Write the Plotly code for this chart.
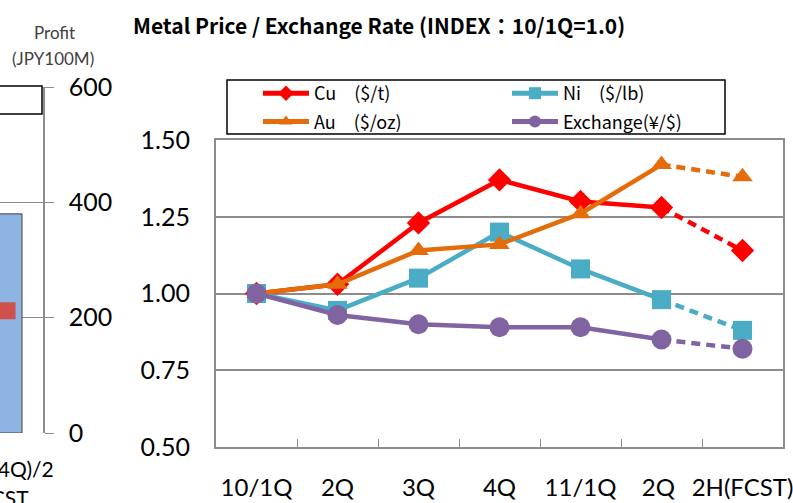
import plotly.graph_objects as go

W, H = 793, 503

categories = ["10/1Q", "2Q", "3Q", "4Q", "11/1Q", "2Q ", "2H(FCST)"]
cu = [1.00, 1.03, 1.23, 1.37, 1.30, 1.28, 1.14]
ni = [1.00, 0.945, 1.05, 1.20, 1.08, 0.98, 0.88]
au = [1.00, 1.03, 1.14, 1.16, 1.26, 1.42, 1.38]
fx = [1.00, 0.93, 0.90, 0.89, 0.89, 0.85, 0.82]
y_ticks = [0.50, 0.75, 1.00, 1.25, 1.50]

# partial neighbouring chart (left)
left_x = [0.0]
profit_bar = [380]
profit_marker_x = [0.16]
profit_marker = [212]
profit_ticks = [0, 200, 400, 600]

series = [
    ("Cu\u3000($/t)", cu, "#FF0000", "diamond", 18, "legend"),
    ("Ni\u3000($/lb)", ni, "#4BACC6", "square", 19, "legend2"),
    ("Au\u3000($/oz)", au, "#E46C0A", "triangle-up", 18, "legend"),
    ("Exchange(\u00a5/$)", fx, "#8064A2", "circle", 20, "legend2"),
]

def px(v):
    return v / W

def py(v):
    return (H - v) / H

fig = go.Figure()

for i, (name, vals, col, sym, sz, lg) in enumerate(series):
    fig.add_trace(go.Scatter(
        x=categories[:6], y=vals[:6], name=name, mode="lines+markers",
        line=dict(color=col, width=4.5),
        marker=dict(symbol=sym, size=sz, color=col, opacity=1),
        legend=lg, legendgroup="g%d" % i,
        xaxis="x", yaxis="y",
    ))
for i, (name, vals, col, sym, sz, lg) in enumerate(series):
    fig.add_trace(go.Scatter(
        x=categories[5:], y=vals[5:], name=name, mode="lines",
        line=dict(color=col, width=4.5, dash="9px,6px"),
        showlegend=False, legendgroup="g%d" % i, xaxis="x", yaxis="y",
    ))
    fig.add_trace(go.Scatter(
        x=categories[6:], y=vals[6:], name=name, mode="markers",
        marker=dict(symbol=sym, size=sz, color=col, opacity=1),
        showlegend=False, legendgroup="g%d" % i, xaxis="x", yaxis="y",
    ))

fig.add_trace(go.Bar(
    x=left_x, y=profit_bar, width=[1.0], xaxis="x2", yaxis="y2",
    marker=dict(color="#8DB4E2", line=dict(color="#404040", width=1)),
    showlegend=False,
))
fig.add_trace(go.Scatter(
    x=profit_marker_x, y=profit_marker, mode="markers", xaxis="x2", yaxis="y2",
    marker=dict(symbol="square", size=17, color="#D0504D"), showlegend=False,
))

grid = "#8C8C8C"
legend_common = dict(
    orientation="v", yanchor="top", xanchor="left",
    bgcolor="rgba(0,0,0,0)", borderwidth=0,
    font=dict(family="Noto Sans CJK JP", size=18, color="black"),
    itemsizing="constant", itemwidth=46, tracegroupgap=2,
)
fig.update_layout(
    width=W, height=H, margin=dict(l=0, r=0, t=0, b=0, autoexpand=False),
    paper_bgcolor="white", plot_bgcolor="rgba(0,0,0,0)",
    showlegend=True,
    legend=dict(x=px(258), y=py(75), **legend_common),
    legend2=dict(x=px(507), y=py(75), **legend_common),
    xaxis=dict(
        domain=[px(216), px(783)], type="category", categoryorder="array",
        categoryarray=categories, range=[-0.5, 6.5], tickangle=0, automargin=False,
        showline=True, mirror=True, linecolor=grid, linewidth=2,
        ticks="inside", tickson="boundaries", ticklen=8, tickcolor=grid, tickwidth=1,
        showgrid=False, tickfont=dict(family="Lato", size=24, color="black"),
        ticklabelstandoff=18, anchor="y",
    ),
    yaxis=dict(
        domain=[py(447), py(140)], range=[0.5, 1.5], tickvals=y_ticks, automargin=False,
        tickformat=".2f", showline=True, mirror=True, linecolor=grid, linewidth=2,
        showgrid=True, gridcolor=grid, gridwidth=1.5, zeroline=False,
        ticks="", tickfont=dict(family="Lato", size=25, color="black"),
        ticklabelstandoff=19, anchor="x",
    ),
    xaxis2=dict(
        domain=[0, px(43)], range=[0, 0.977], visible=False, anchor="y2",
    ),
    yaxis2=dict(
        domain=[py(433), py(87)], range=[0, 600], tickvals=profit_ticks, automargin=False,
        side="right", anchor="x2", showline=True, linecolor=grid, linewidth=1.5,
        ticks="outside", ticklen=9, tickcolor=grid, showgrid=True, gridcolor=grid,
        zeroline=False, tickfont=dict(family="Lato", size=25, color="black"),
        ticklabelstandoff=10,
    ),
    shapes=[
        dict(type="rect", xref="paper", yref="paper", x0=px(227), x1=px(725),
             y0=py(134), y1=py(80), line=dict(color="black", width=1.5),
             fillcolor="rgba(0,0,0,0)", layer="above"),
        dict(type="rect", xref="paper", yref="paper", x0=px(-5), x1=px(42),
             y0=py(114), y1=py(86), line=dict(color="black", width=1.5),
             fillcolor="white", layer="above"),
    ],
    annotations=[
        dict(text="<b>Metal Price / Exchange Rate (INDEX\uff1a10/1Q=1.0)</b>",
             xref="paper", yref="paper", x=px(131), y=py(25), xanchor="left",
             yanchor="middle", showarrow=False,
             font=dict(family="Noto Sans CJK JP", size=21, color="black")),
        dict(text="Profit", xref="paper", yref="paper", x=px(54), y=py(33),
             xanchor="center", yanchor="middle", showarrow=False,
             font=dict(family="Lato", size=17, color="#404040")),
        dict(text="(JPY100M)", xref="paper", yref="paper", x=px(53), y=py(58),
             xanchor="center", yanchor="middle", showarrow=False,
             font=dict(family="Lato", size=17, color="#404040")),
        dict(text="(3Q+4Q)/2", xref="paper", yref="paper", x=px(56), y=py(468),
             xanchor="right", yanchor="middle", showarrow=False,
             font=dict(family="Lato", size=21, color="black")),
        dict(text="FCST", xref="paper", yref="paper", x=px(31), y=py(497),
             xanchor="right", yanchor="middle", showarrow=False,
             font=dict(family="Lato", size=21, color="black")),
    ],
)

fig.write_html("out.html", post_script="document.body.style.margin='0';",
               config={"displayModeBar": False})
